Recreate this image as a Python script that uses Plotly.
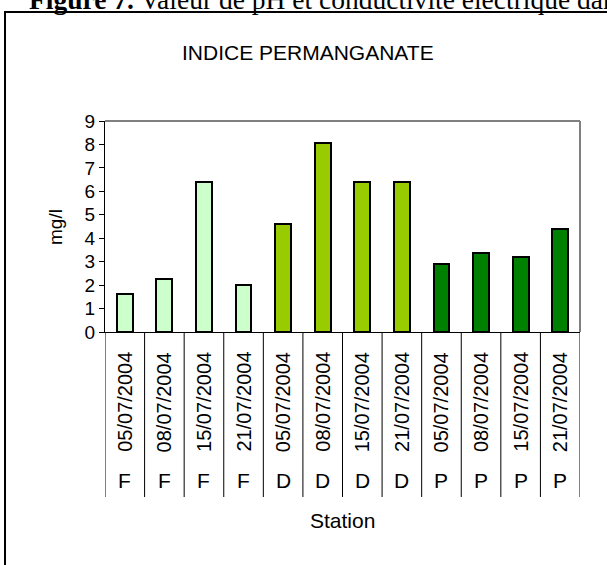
import plotly.graph_objects as go

# ---- data ----
stations = ["F", "F", "F", "F", "D", "D", "D", "D", "P", "P", "P", "P"]
dates = ["05/07/2004", "08/07/2004", "15/07/2004", "21/07/2004",
         "05/07/2004", "08/07/2004", "15/07/2004", "21/07/2004",
         "05/07/2004", "08/07/2004", "15/07/2004", "21/07/2004"]
values = [1.6, 2.25, 6.4, 2.0, 4.62, 8.08, 6.4, 6.4, 2.89, 3.39, 3.2, 4.41]
station_colors = {"F": "#CCFFCC", "D": "#99CC00", "P": "#008000"}
y_ticks = [0, 1, 2, 3, 4, 5, 6, 7, 8, 9]

W, H = 607, 565
L, R, T, B = 105, 27, 121, 233
PW = W - L - R
PH = H - T - B


def px(x):
    return (x - L) / PW


def py(y):
    return (H - B - y) / PH


idx = list(range(len(values)))
fig = go.Figure()
fig.add_trace(go.Bar(
    x=idx, y=values, width=0.4,
    marker=dict(color=[station_colors[s] for s in stations],
                line=dict(color="black", width=2)),
    showlegend=False, hoverinfo="y",
))

fig.update_layout(
    width=W, height=H,
    margin=dict(l=L, r=R, t=T, b=B, pad=0),
    paper_bgcolor="white", plot_bgcolor="white",
    font=dict(family="Liberation Sans, Arial", color="black"),
    bargap=0,
    xaxis=dict(range=[-0.5, len(values) - 0.5], showticklabels=False,
               showgrid=False, zeroline=False, showline=True,
               linecolor="black", linewidth=1, ticks=""),
    yaxis=dict(range=[0, 9], tickvals=y_ticks, showgrid=False, zeroline=False,
               showline=True, linecolor="black", linewidth=1,
               ticks="outside", ticklen=5, tickcolor="black",
               tickfont=dict(size=19)),
)

shapes = []
# gray plot frame (top & right)
shapes.append(dict(type="line", xref="paper", yref="paper", x0=0, x1=1, y0=1, y1=1,
                   line=dict(color="#808080", width=2), layer="below"))
shapes.append(dict(type="line", xref="paper", yref="paper", x0=1, x1=1, y0=0, y1=1,
                   line=dict(color="#808080", width=2), layer="below"))
# category dividers
for i in range(len(values) + 1):
    shapes.append(dict(type="line", xref="x", yref="paper", x0=i - 0.5, x1=i - 0.5,
                       y0=0, y1=py(497), line=dict(color="black", width=1)))
# outer frame
shapes.append(dict(type="rect", xref="paper", yref="paper",
                   x0=px(5), x1=px(640), y0=py(12), y1=py(600),
                   line=dict(color="black", width=2), fillcolor="rgba(0,0,0,0)"))
fig.update_layout(shapes=shapes)

ann = []
for i, (d, s) in enumerate(zip(dates, stations)):
    ann.append(dict(x=i, y=py(402), xref="x", yref="paper", text=d, textangle=-90,
                    showarrow=False, font=dict(size=20), xanchor="center", yanchor="middle"))
    ann.append(dict(x=i, y=py(481), xref="x", yref="paper", text=s,
                    showarrow=False, font=dict(size=21), xanchor="center", yanchor="middle"))
ann.append(dict(x=0.5, y=py(520), xref="paper", yref="paper", text="Station",
                showarrow=False, font=dict(size=21), xanchor="center", yanchor="middle"))
ann.append(dict(x=px(55), y=py(227), xref="paper", yref="paper", text="mg/l", textangle=-90,
                showarrow=False, font=dict(size=19), xanchor="center", yanchor="middle"))
ann.append(dict(x=px(308), y=py(52), xref="paper", yref="paper", text="INDICE PERMANGANATE",
                showarrow=False, font=dict(size=21), xanchor="center", yanchor="middle"))
ann.append(dict(x=px(27), y=py(0), xref="paper", yref="paper",
                text="<b>Figure 7.</b> Valeur de pH et conductivité électrique dans",
                showarrow=False, font=dict(size=27.5, family="Liberation Serif, Times New Roman"),
                xanchor="left", yanchor="middle"))
fig.update_layout(annotations=ann)

fig.write_html("out.html", config={"displayModeBar": False},
               post_script="document.body.style.margin='0';")
